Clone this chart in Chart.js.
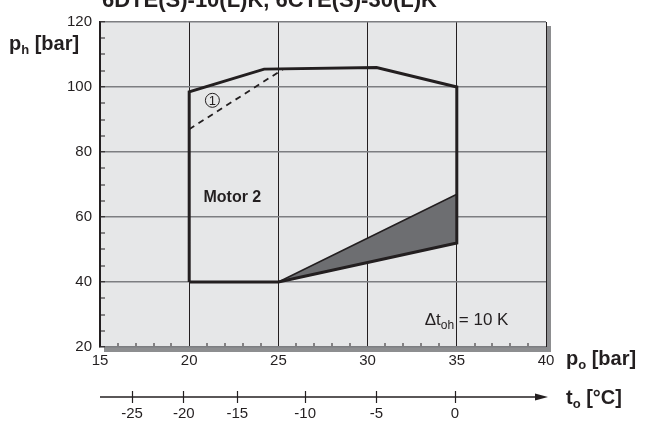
<!DOCTYPE html>
<html>
<head>
<meta charset="utf-8">
<script src="https://cdn.jsdelivr.net/npm/chart.js@4.4.1/dist/chart.umd.min.js"></script>
<style>
  html, body { margin: 0; padding: 0; background: #fff; }
  #wrap { width: 648px; height: 423px; position: relative; }
</style>
</head>
<body>
<div id="wrap"><canvas id="envelopeChart"></canvas></div>
<script>
// application envelope, p_o [bar] against p_h [bar]
const envelopeX = [20, 20, 24.2, 30.5, 35, 35, 25, 20];
const envelopeY = [40, 98.5, 105.5, 106, 100, 52, 40, 40];

// shaded zone (suction superheat limit)
const zoneX = [25, 35, 35, 25];
const zoneY = [40, 67, 52, 40];

// dashed limit, marked (1)
const dashX = [20, 25.3];
const dashY = [87, 105.6];

// evaporating temperature scale under the pressure axis
const tempLabels = ['-25', '-20', '-15', '-10', '-5', '0'];
const tempAtPressure = [16.8, 19.7, 22.7, 26.5, 30.5, 34.9];

const FONT = '"Liberation Sans", Arial, Helvetica, sans-serif';
const INK = '#231f20';

const pts = (xs, ys) => xs.map((x, i) => ({ x: x, y: ys[i] }));

// writes text runs with subscripts: [text, size, dy]
function runs(ctx, x, y, weight, parts) {
  parts.forEach(([t, size, dy]) => {
    ctx.font = `${weight} ${size}px ${FONT}`;
    ctx.fillText(t, x, y + dy);
    x += ctx.measureText(t).width;
  });
}

const framePlugin = {
  id: 'frame',
  beforeDraw(chart) {
    const { ctx, chartArea: a } = chart;
    ctx.save();
    ctx.fillStyle = '#8d8e90';
    ctx.fillRect(a.left + 4, a.top + 4, a.width + 1, a.height + 1);
    ctx.fillStyle = '#e6e7e8';
    ctx.fillRect(a.left, a.top, a.width, a.height);
    ctx.restore();
  },
  afterDraw(chart) {
    const { ctx } = chart;
    const sx = chart.scales.x, sy = chart.scales.y, st = chart.scales.t;
    ctx.save();
    ctx.fillStyle = INK;
    ctx.strokeStyle = INK;
    ctx.textBaseline = 'alphabetic';
    ctx.textAlign = 'left';

    // title, partly above the canvas
    ctx.font = `bold 22px ${FONT}`;
    ctx.fillText('6DTE(S)-10(L)K, 6CTE(S)-30(L)K', 102, 7);

    // axis names
    runs(ctx, 9, 50, 'bold', [['p', 20, 0], ['h', 13, 4], [' [bar]', 20, 0]]);
    runs(ctx, 566, 365, 'bold', [['p', 20, 0], ['o', 13, 4], [' [bar]', 20, 0]]);
    runs(ctx, 566, 404, 'bold', [['t', 20, 0], ['o', 13, 4], [' [°C]', 20, 0]]);

    // temperature axis line with arrow
    const ly = st.top + 6;
    ctx.lineWidth = 1.3;
    ctx.beginPath();
    ctx.moveTo(sx.left, ly);
    ctx.lineTo(sx.right - 8, ly);
    ctx.stroke();
    ctx.beginPath();
    ctx.moveTo(sx.right + 2, ly);
    ctx.lineTo(sx.right - 11, ly - 3.5);
    ctx.lineTo(sx.right - 11, ly + 3.5);
    ctx.closePath();
    ctx.fill();

    // annotations inside the plot
    ctx.font = `bold 16px ${FONT}`;
    ctx.textBaseline = 'middle';
    ctx.fillText('Motor 2', sx.getPixelForValue(20.8), sy.getPixelForValue(66));

    const cx = sx.getPixelForValue(21.3), cy = sy.getPixelForValue(95.9);
    ctx.lineWidth = 1;
    ctx.beginPath();
    ctx.arc(cx, cy, 7, 0, Math.PI * 2);
    ctx.stroke();
    ctx.font = `13px ${FONT}`;
    ctx.textAlign = 'center';
    ctx.fillText('1', cx, cy + 1);

    ctx.textAlign = 'left';
    ctx.textBaseline = 'alphabetic';
    runs(ctx, sx.getPixelForValue(33.2), sy.getPixelForValue(26.8), 'normal',
      [['Δt', 17, 0], ['oh', 12, 4], [' = 10 K', 17, 0]]);
    ctx.restore();
  }
};

const ctx = document.getElementById('envelopeChart').getContext('2d');

new Chart(ctx, {
  type: 'line',
  data: {
    datasets: [
      {
        data: pts(envelopeX, envelopeY),
        borderColor: INK,
        borderWidth: 3,
        pointRadius: 0,
        fill: false,
        order: 0
      },
      {
        data: pts(dashX, dashY),
        borderColor: INK,
        borderWidth: 1.8,
        borderDash: [6, 5],
        pointRadius: 0,
        fill: false,
        order: 1
      },
      {
        data: pts(zoneX, zoneY),
        borderColor: INK,
        borderWidth: 1.5,
        backgroundColor: '#6d6e71',
        pointRadius: 0,
        fill: 'shape',
        order: 2
      }
    ]
  },
  options: {
    responsive: true,
    maintainAspectRatio: false,
    animation: false,
    layout: { padding: { top: 13, right: 102, left: 0, bottom: 0 } },
    plugins: {
      legend: { display: false },
      tooltip: { enabled: false },
      title: { display: false }
    },
    scales: {
      x: {
        type: 'linear',
        position: 'bottom',
        min: 15,
        max: 40,
        afterFit: s => { s.height = 44; },
        border: { display: false },
        grid: {
          color: INK,
          lineWidth: c => (c.tick && c.tick.value % 5 === 0 ? 1 : 0),
          drawTicks: true,
          tickLength: -4,
          tickColor: INK,
          tickWidth: 1
        },
        ticks: {
          stepSize: 1,
          autoSkip: false,
          maxRotation: 0,
          padding: 9,
          color: INK,
          font: { family: FONT, size: 15 },
          callback: v => (v % 5 === 0 ? String(v) : '')
        }
      },
      t: {
        type: 'linear',
        position: 'bottom',
        min: 15,
        max: 40,
        afterFit: s => { s.height = 32; },
        afterBuildTicks: s => { s.ticks = tempAtPressure.map(v => ({ value: v })); },
        border: { display: false },
        grid: {
          drawOnChartArea: false,
          drawTicks: true,
          tickLength: 12,
          tickColor: INK,
          tickWidth: 1.2
        },
        ticks: {
          autoSkip: false,
          maxRotation: 0,
          padding: 2,
          color: INK,
          font: { family: FONT, size: 15 },
          callback: (v, i) => tempLabels[i]
        }
      },
      y: {
        type: 'linear',
        position: 'left',
        min: 20,
        max: 120,
        afterFit: s => { s.width = 100; },
        border: { display: true, color: INK, width: 1.5 },
        grid: {
          color: '#7d7e81',
          lineWidth: c => (c.tick && c.tick.value % 20 === 0 ? 1.5 : 0),
          drawTicks: true,
          tickLength: -5,
          tickColor: INK,
          tickWidth: 1
        },
        ticks: {
          stepSize: 5,
          autoSkip: false,
          padding: 13,
          color: INK,
          font: { family: FONT, size: 15 },
          callback: v => (v % 20 === 0 ? String(v) : '')
        }
      }
    }
  },
  plugins: [framePlugin]
});
</script>
</body>
</html>
